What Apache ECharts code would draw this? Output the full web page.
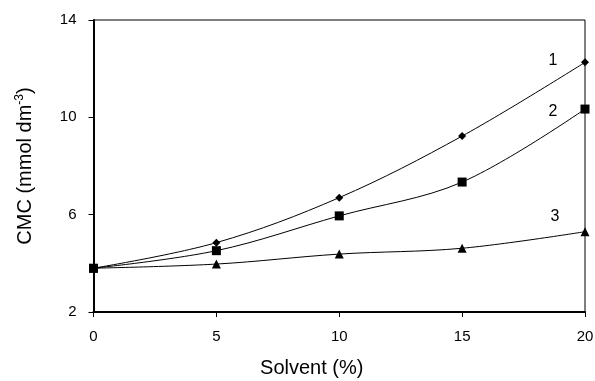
<!DOCTYPE html>
<html>
<head>
<meta charset="utf-8">
<script src="https://cdn.jsdelivr.net/npm/echarts@6/dist/echarts.min.js"></script>
<style>
  html, body { margin: 0; padding: 0; background: #fff; }
  #chart { width: 595px; height: 381px; }
</style>
</head>
<body>
<div id="chart"></div>
<script>
var solvent = [0, 5, 10, 15, 20];
var cmc1 = [3.8, 4.85, 6.7, 9.23, 12.26];
var cmc2 = [3.8, 4.52, 5.95, 7.34, 10.34];
var cmc3 = [3.8, 3.97, 4.38, 4.62, 5.3];
var curveLabels = ['1', '2', '3'];
var labelPos = [[18.7, 12.33], [18.7, 10.23], [18.78, 5.94]];

var chart = echarts.init(document.getElementById('chart'));

function pairs(ys) {
  return solvent.map(function (x, i) { return [x, ys[i]]; });
}

var fontFamily = '"Liberation Sans", Arial, sans-serif';

function makeSeries(name, ys, symbol, size, idx) {
  return {
    name: name,
    type: 'line',
    smooth: 0.35,
    symbol: symbol,
    symbolSize: size,
    showAllSymbol: true,
    lineStyle: { color: '#000', width: 1 },
    itemStyle: { color: '#000' },
    data: pairs(ys),
    markPoint: {
      symbol: 'circle',
      symbolSize: 1,
      silent: true,
      itemStyle: { color: 'transparent' },
      label: {
        show: true,
        position: 'inside',
        formatter: curveLabels[idx],
        color: '#000',
        fontSize: 16,
        fontFamily: fontFamily
      },
      data: [{ coord: labelPos[idx], value: curveLabels[idx] }]
    }
  };
}

var option = {
  animation: false,
  backgroundColor: '#fff',
  grid: {
    left: 93.5,
    right: 10,
    top: 20,
    bottom: 69,
    containLabel: false,
    outerBoundsMode: 'none',
    show: true,
    borderColor: '#000',
    borderWidth: 1,
    backgroundColor: 'transparent'
  },
  xAxis: {
    type: 'value',
    min: 0,
    max: 20,
    interval: 5,
    name: 'Solvent (%)',
    nameLocation: 'middle',
    nameGap: 46,
    nameTextStyle: { color: '#000', fontSize: 20, fontFamily: fontFamily, padding: [0, 55, 0, 0] },
    splitLine: { show: false },
    axisLine: { onZero: false, lineStyle: { color: '#000', width: 2 } },
    axisTick: { show: true, length: 5, lineStyle: { color: '#000', width: 1 } },
    axisLabel: { color: '#000', fontSize: 15, fontFamily: fontFamily, margin: 17 }
  },
  yAxis: {
    type: 'value',
    min: 2,
    max: 14,
    interval: 4,
    name: '{a|CMC (mmol dm}{s|-3}{a|)}',
    nameLocation: 'middle',
    nameGap: 56,
    nameRotate: 90,
    nameTextStyle: {
      color: '#000',
      fontFamily: fontFamily,
      rich: {
        a: { fontSize: 20, fontFamily: fontFamily, color: '#000', lineHeight: 24 },
        s: { fontSize: 12, fontFamily: fontFamily, color: '#000', verticalAlign: 'top', lineHeight: 24 }
      }
    },
    splitLine: { show: false },
    axisLine: { onZero: false, lineStyle: { color: '#000', width: 2 } },
    axisTick: { show: true, length: 5, lineStyle: { color: '#000', width: 1 } },
    axisLabel: { color: '#000', fontSize: 15, fontFamily: fontFamily, margin: 17 }
  },
  series: [
    makeSeries('1', cmc1, 'diamond', 8, 0),
    makeSeries('2', cmc2, 'rect', 9, 1),
    makeSeries('3', cmc3, 'triangle', 9, 2)
  ]
};

chart.setOption(option);
</script>
</body>
</html>
